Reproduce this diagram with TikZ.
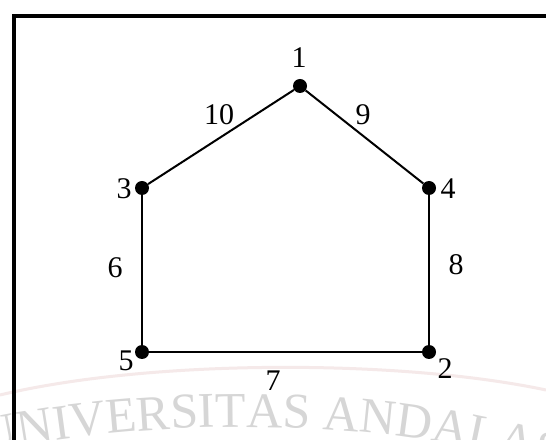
\documentclass[tikz,border=0pt]{standalone}
\usepackage{fontspec}
\setmainfont{Liberation Serif}
\newfontfamily\wmfont{Liberation Serif}
\usetikzlibrary{decorations.text}
\definecolor{wmgray}{RGB}{214,214,214}
\definecolor{wmpink}{RGB}{245,233,233}
\begin{document}
\begin{tikzpicture}[x=1pt,y=1pt,
  vertex/.style={circle,fill=black,inner sep=0pt,minimum size=14pt},
  lbl/.style={inner sep=0pt,font=\fontsize{30}{34}\selectfont},
  edge/.style={line width=2pt}]
\useasboundingbox (0,0) rectangle (546,439);
\fill[white] (0,0) rectangle (546,439);
% watermark
\draw[wmpink,line width=3pt] (0,44) .. controls (150,80) and (400,80) .. (546,49);
\path[decorate,decoration={text along path,text color=wmgray,
  text={|\wmfont\fontsize{50}{56}\selectfont|UNIVERSITAS ANDALAS}}]
  (-16,-14) .. controls (150,22) and (400,26) .. (580,-38);
% frame
\draw[line width=4pt] (14,-5) -- (14,423) -- (551,423);
% vertices
\node[vertex] (n1) at (300,353) {};
\node[vertex] (n3) at (142,251) {};
\node[vertex] (n4) at (429,251) {};
\node[vertex] (n5) at (142,87) {};
\node[vertex] (n2) at (429,87) {};
% edges
\draw[edge] (n1) -- (n3);
\draw[edge] (n1) -- (n4);
\draw[edge] (n3) -- (n5);
\draw[edge] (n4) -- (n2);
\draw[edge] (n5) -- (n2);
% vertex labels
\node[lbl] (l1) at (299,381) {1};
\node[lbl] (l3) at (124,250) {3};
\node[lbl] (l4) at (448,250) {4};
\node[lbl] (l5) at (126,78) {5};
\node[lbl] (l2) at (445,70) {2};
% edge labels
\node[lbl] (w10) at (219,324) {10};
\node[lbl] (w9) at (363,324) {9};
\node[lbl] (w6) at (115,171) {6};
\node[lbl] (w8) at (456,174) {8};
\node[lbl] (w7) at (273,58) {7};
\end{tikzpicture}
\end{document}
